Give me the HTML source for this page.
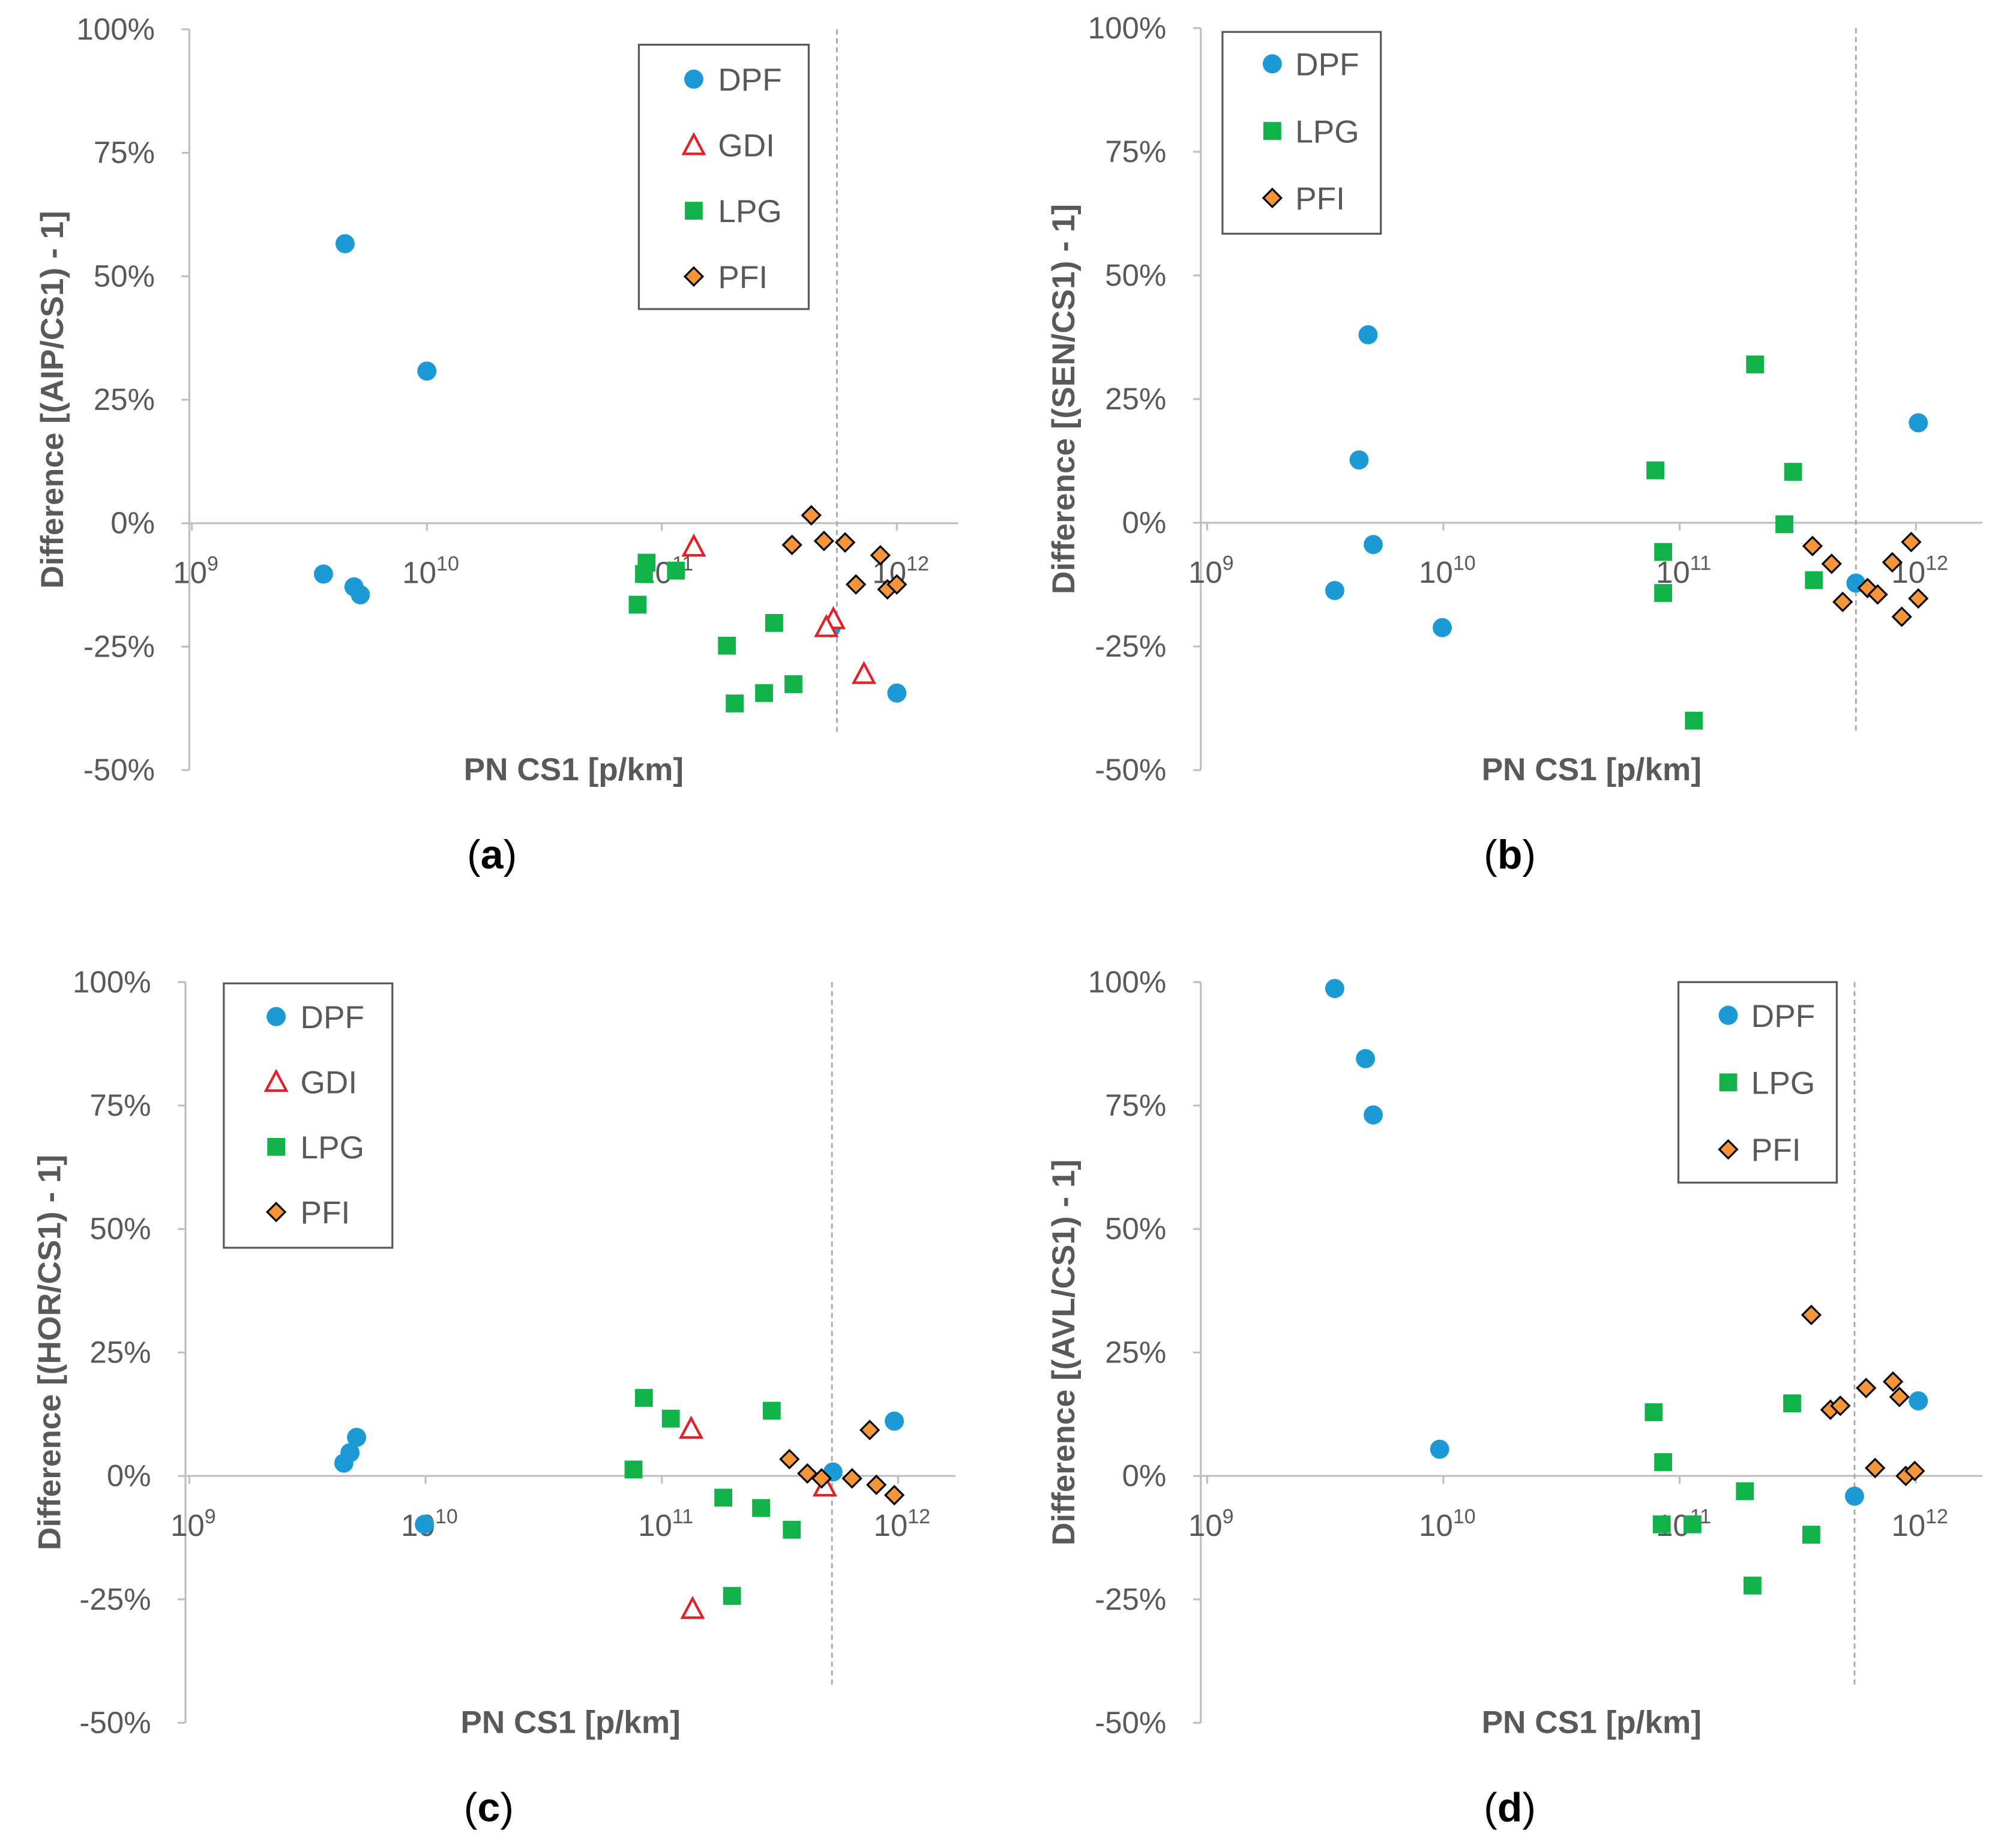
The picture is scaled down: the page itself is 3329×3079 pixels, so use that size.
<!DOCTYPE html>
<html><head><meta charset="utf-8"><style>
html,body{margin:0;padding:0;background:#fff}
svg{display:block}
text{font-family:"Liberation Sans",sans-serif}
</style></head><body>
<svg id="c" width="3329" height="3079" viewBox="0 0 1564 1447" xmlns="http://www.w3.org/2000/svg"></svg>
<script>
// ---- data (x as log10 of PN CS1, y in %) ----
const yTicks = [100, 75, 50, 25, 0, -25, -50];
const xDecades = [9, 10, 11, 12];
const cutoffLog = [11.745, 11.746, 11.72, 11.74];

const aDpfX = [9.652, 9.56, 9.69, 9.717, 10.0, 11.72, 12.0];
const aDpfY = [56.6, -10.3, -12.9, -14.5, 30.8, -21.2, -34.4];
const aGdiX = [11.136, 11.73, 11.70, 11.86];
const aGdiY = [-4.7, -19.4, -21, -30.5];
const aLpgX = [10.935, 10.924, 11.06, 10.897, 11.277, 11.31, 11.435, 11.478, 11.56];
const aLpgY = [-8, -10.3, -9.6, -16.5, -24.8, -36.5, -34.4, -20.2, -32.6];
const aPfiX = [11.554, 11.636, 11.69, 11.78, 11.826, 11.93, 11.96, 12.0];
const aPfiY = [-4.4, 1.6, -3.6, -3.9, -12.4, -6.5, -13.4, -12.4];

const bDpfX = [9.681, 9.643, 9.703, 9.54, 9.995, 11.746, 12.01];
const bDpfY = [38, 12.7, -4.4, -13.7, -21.2, -12.2, 20.2];
const bLpgX = [11.319, 10.897, 10.93, 10.93, 11.06, 11.48, 11.443, 11.568];
const bLpgY = [32, 10.6, -5.9, -14.2, -40, 10.3, -0.3, -11.6];
const bPfiX = [11.562, 11.643, 11.69, 11.795, 11.838, 11.9, 11.98, 11.94, 12.01];
const bPfiY = [-4.7, -8.3, -16, -13.2, -14.5, -8, -3.9, -19, -15.3];

const cDpfX = [9.654, 9.68, 9.708, 9.995, 11.724, 11.984];
const cDpfY = [2.6, 4.7, 7.8, -9.8, 0.8, 11.1];
const cGdiX = [11.124, 11.13, 11.69];
const cGdiY = [9.6, -26.9, -2.1];
const cLpgX = [10.924, 10.88, 11.038, 11.26, 11.297, 11.42, 11.465, 11.55];
const cLpgY = [15.8, 1.3, 11.6, -4.4, -24.3, -6.5, 13.2, -10.9];
const cPfiX = [11.54, 11.616, 11.676, 11.805, 11.88, 11.908, 11.984];
const cPfiY = [3.4, 0.5, -0.5, -0.5, 9.3, -1.8, -3.9];

const dDpfX = [9.54, 9.67, 9.703, 9.984, 11.74, 12.01];
const dDpfY = [98.7, 84.5, 73.1, 5.4, -4.1, 15.2];
const dLpgX = [10.89, 10.93, 10.924, 11.054, 11.276, 11.308, 11.476, 11.557];
const dLpgY = [12.9, 2.8, -9.8, -9.8, -3.1, -22.2, 14.7, -11.9];
const dPfiX = [11.557, 11.638, 11.68, 11.789, 11.827, 11.903, 11.93, 11.957, 11.995];
const dPfiY = [32.6, 13.4, 14.2, 17.8, 1.6, 19.1, 16, 0, 1];

const panels = [
 {id:'a', ax:148, x9:150, dec:184, top:23, bot:603, xend:750, title:'Difference [(AIP/CS1) - 1]', titleX:40,
  series:[['DPF',aDpfX,aDpfY],['GDI',aGdiX,aGdiY],['LPG',aLpgX,aLpgY],['PFI',aPfiX,aPfiY]],
  leg:{x:500,y:35,w:133,h:207,mx:543,tx:562,y0:62,dy:51.5}},
 {id:'b', ax:940, x9:945, dec:185, top:22, bot:603, xend:1552, title:'Difference [(SEN/CS1) - 1]', titleX:832,
  series:[['DPF',bDpfX,bDpfY],['LPG',bLpgX,bLpgY],['PFI',bPfiX,bPfiY]],
  leg:{x:957,y:25,w:124,h:158,mx:996,tx:1014,y0:50,dy:52.5}},
 {id:'c', ax:145, x9:148, dec:185, top:769, bot:1349, xend:748, title:'Difference [(HOR/CS1) - 1]', titleX:38,
  series:[['DPF',cDpfX,cDpfY],['GDI',cGdiX,cGdiY],['LPG',cLpgX,cLpgY],['PFI',cPfiX,cPfiY]],
  leg:{x:175,y:770,w:132,h:207,mx:216,tx:235,y0:796,dy:51}},
 {id:'d', ax:940, x9:945, dec:185, top:769, bot:1349, xend:1552, title:'Difference [(AVL/CS1) - 1]', titleX:832,
  series:[['DPF',dDpfX,dDpfY],['LPG',dLpgX,dLpgY],['PFI',dPfiX,dPfiY]],
  leg:{x:1314,y:769,w:124,h:157,mx:1353,tx:1371,y0:795,dy:52.5}}
];
const NS='http://www.w3.org/2000/svg';
const svg=document.getElementById('c');
function mk(tag,attrs,parent,txt){const e=document.createElementNS(NS,tag);for(const k in attrs)e.setAttribute(k,attrs[k]);if(txt!==undefined)e.textContent=txt;(parent||svg).appendChild(e);return e;}
function marker(kind,x,y,g){
  let e;
  if(kind==='DPF') e=mk('circle',{cx:x,cy:y,r:7.5,fill:'#1b9ad6'},g);
  else if(kind==='LPG') e=mk('rect',{x:x-7,y:y-7,width:14,height:14,fill:'#12b24b'},g);
  else if(kind==='PFI') e=mk('polygon',{points:`${x},${y-7} ${x+7},${y} ${x},${y+7} ${x-7},${y}`,fill:'#f7953b',stroke:'#000','stroke-width':1.5},g);
  else e=mk('polygon',{points:`${x},${y-8} ${x+8},${y+7} ${x-8},${y+7}`,fill:'#fff',stroke:'#e41f26','stroke-width':2},g);
  return e;
}
panels.forEach(p=>{
  const g=mk('g',{});
  
  
  const ys=v=>p.top+(100-v)*(p.bot-p.top)/150;
  const xs=l=>p.x9+(l-9)*p.dec;
  const y0=ys(0);
  const yl=mk('line',{x1:p.ax,y1:p.top,x2:p.ax,y2:p.bot,stroke:'#bfbfbf','stroke-width':1.5},g);
  
  
  yTicks.forEach(t=>{
    mk('line',{x1:p.ax-6,y1:ys(t),x2:p.ax,y2:ys(t),stroke:'#bfbfbf','stroke-width':1.5},g);
    const tl=mk('text',{x:p.ax-27,y:ys(t)+8,'text-anchor':'end','font-size':24,fill:'#595959'},g,t+'%');
    
    
  });
  const xl=mk('line',{x1:p.ax,y1:y0,x2:p.xend,y2:y0,stroke:'#bfbfbf','stroke-width':1.5},g);
  
  
  xDecades.forEach(d=>{
    const x=xs(d);
    mk('line',{x1:x,y1:y0,x2:x,y2:y0+6,stroke:'#bfbfbf','stroke-width':1.5},g);
    const t=mk('text',{x:x+3,y:y0+47,'text-anchor':'middle','font-size':24,fill:'#595959'},g);
    
    
    mk('tspan',{},t,'10');
    mk('tspan',{dy:-10,'font-size':16},t,String(d));
  });
  const cx=xs(cutoffLog[panels.indexOf(p)]);
  const dl=mk('line',{x1:cx,y1:p.top,x2:cx,y2:p.bot-30,stroke:'#a6a6a6','stroke-width':1.3,'stroke-dasharray':'4,3'},g);
  
  
  const yt=mk('text',{x:p.titleX,y:(p.top+p.bot)/2,'text-anchor':'middle','font-size':25,'font-weight':'bold',fill:'#595959',transform:`rotate(-90 ${p.titleX} ${(p.top+p.bot)/2}) translate(0 9)`},g,p.title);
  
  
  const xt=mk('text',{x:(p.ax+p.xend)/2,y:p.bot+8,'text-anchor':'middle','font-size':25,'font-weight':'bold',fill:'#595959'},g,'PN CS1 [p/km]');
  
  
  const pl=mk('text',{x:(p.ax+p.xend)/2-64,y:p.bot+77,'text-anchor':'middle','font-size':32,'font-family':'"Liberation Serif",serif',fill:'#000'},g);
  
  
  mk('tspan',{},pl,'(');mk('tspan',{'font-weight':'bold'},pl,p.id);mk('tspan',{},pl,')');
  p.series.forEach(([name,X,Y])=>{
    const sg=mk('g',{},g);
    
    
    X.forEach((lx,i)=>{
      const m=marker(name,xs(lx),ys(Y[i]),sg);
      
      
    });
  });
  const L=p.leg;
  const lg=mk('g',{},g);
  
  
  mk('rect',{x:L.x,y:L.y,width:L.w,height:L.h,fill:'#fff',stroke:'#595959','stroke-width':1.5},lg);
  p.series.forEach(([name],i)=>{
    const yy=L.y0+i*L.dy;
    const m=marker(name,L.mx,yy,lg);
    
    
    const t=mk('text',{x:L.tx,y:yy+9,'font-size':25,fill:'#595959'},lg,name);
    
    
  });
});
</script>
</body></html>
